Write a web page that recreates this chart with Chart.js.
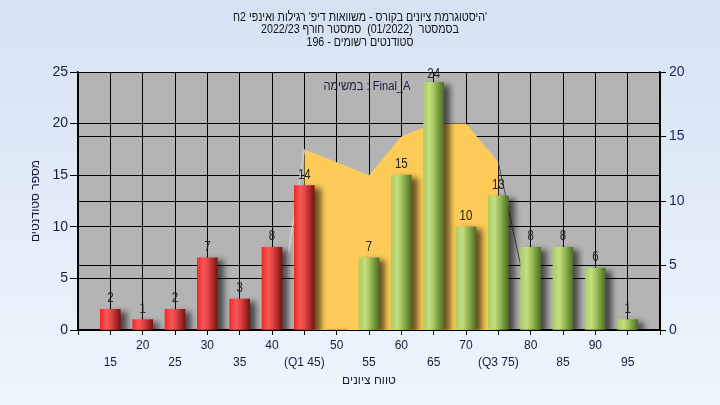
<!DOCTYPE html>
<html>
<head>
<meta charset="utf-8">
<script src="https://cdn.jsdelivr.net/npm/chart.js@4"></script>
<style>
html, body { margin: 0; padding: 0; }
body { width: 720px; height: 405px; background: linear-gradient(#d5e2f3, #eef5fd); }
canvas { display: block; }
</style>
</head>
<body>
<canvas id="gradesChart" width="720" height="405"></canvas>
<script>
// grade buckets and number of students in each (left axis)
const grades = [15, 20, 25, 30, 35, 40, 45, 50, 55, 60, 65, 70, 75, 80, 85, 90, 95];
const students = [2, 1, 2, 7, 3, 8, 14, 0, 7, 15, 24, 10, 13, 8, 8, 6, 1];
const tickLabels = ['15', '20', '25', '30', '35', '40', '(Q1 45)', '50', '55', '60', '65', '70', '(Q3 75)', '80', '85', '90', '95'];
const passGrade = 55;

// yellow band between Q1 and Q3 (right axis)
const bandGrades = [45, 50, 55, 60, 65, 70, 75];
const bandValues = [14, 13, 12, 15, 16, 16, 13];
// side edges of the band
const leftEdge = [{x: 45, y: 14}, {x: 42.3, y: 5.2}];
const rightEdge = [{x: 75, y: 13}, {x: 78.5, y: 4.9}];

const titleLines = [
    "'היסטוגרמת ציונים בקורס - משוואות דיפ' רגילות ואינפי 2ח",
    'בסמסטר  (01/2022)  סמסטר חורף 2022/23',
    'סטודנטים רשומים - 196'
];
const taskLabel = 'במשימה : Final_A';

const FONT = '"Liberation Sans", "DejaVu Sans", sans-serif';
const TEXT = '#1a1a3c';
Chart.defaults.font.family = FONT;
Chart.defaults.color = TEXT;

// cylinder-like shading for each bar
function barFill(context) {
    const chart = context.chart;
    const xs = chart.scales.x;
    const i = context.dataIndex;
    const red = grades[i] < passGrade;
    if (!xs || i === undefined) return red ? '#e84848' : '#9cbf58';
    const cx = xs.getPixelForValue(grades[i]);
    if (!isFinite(cx)) return red ? '#e84848' : '#9cbf58';
    const g = chart.ctx.createLinearGradient(cx - 10, 0, cx + 10, 0);
    if (red) {
        g.addColorStop(0, '#f02828');
        g.addColorStop(0.3, '#ff5656');
        g.addColorStop(0.5, '#e84848');
        g.addColorStop(1, '#7c1212');
    } else {
        g.addColorStop(0, '#a9cf5c');
        g.addColorStop(0.3, '#c4de84');
        g.addColorStop(0.55, '#9cbf58');
        g.addColorStop(1, '#4f6e22');
    }
    return g;
}

// narrow-looking text: squeeze horizontally around the anchor
function squeezed(ctx, text, x, y, sx) {
    ctx.save();
    ctx.translate(x, y);
    ctx.scale(sx, 1);
    ctx.fillText(text, 0, 0);
    ctx.restore();
}

const plotBackground = {
    id: 'plotBackground',
    beforeDraw(chart) {
        const {ctx, chartArea: a} = chart;
        ctx.save();
        ctx.fillStyle = '#b4b4b4';
        ctx.fillRect(a.left, a.top, a.width, a.height);
        ctx.restore();
    }
};

const barShadow = {
    id: 'barShadow',
    beforeDatasetDraw(chart, args) {
        if (args.index !== 0) return;
        const ctx = chart.ctx;
        ctx.save();
        ctx.shadowColor = 'rgba(0,0,0,0.6)';
        ctx.shadowBlur = 6;
        ctx.shadowOffsetX = 6;
        ctx.shadowOffsetY = 3;
    },
    afterDatasetDraw(chart, args) {
        if (args.index !== 0) return;
        chart.ctx.restore();
    }
};

const textLayer = {
    id: 'textLayer',
    afterDraw(chart) {
        const ctx = chart.ctx;
        const a = chart.chartArea;
        ctx.save();
        // value above each bar
        ctx.font = '14px ' + FONT;
        ctx.fillStyle = '#222';
        ctx.textAlign = 'center';
        ctx.textBaseline = 'alphabetic';
        chart.getDatasetMeta(0).data.forEach(function(bar, i) {
            if (!students[i]) return;
            squeezed(ctx, String(students[i]), bar.x, Math.max(bar.y - 7, a.top + 6), 0.82);
        });
        // task label inside the plot
        ctx.font = '13px ' + FONT;
        ctx.fillStyle = TEXT;
        ctx.textBaseline = 'middle';
        ctx.direction = 'ltr';
        squeezed(ctx, taskLabel, 367, 86, 0.86);
        // header
        ctx.direction = 'rtl';
        ctx.fillStyle = '#111';
        titleLines.forEach(function(line, k) {
            squeezed(ctx, line, 360, 17 + k * 12.5, 0.82);
        });
        ctx.restore();
    }
};

const ctx = document.getElementById('gradesChart').getContext('2d');
const gradesChart = new Chart(ctx, {
    type: 'bar',
    data: {
        datasets: [{
            type: 'bar',
            data: grades.map(function(g, i) { return {x: g, y: students[i]}; }),
            backgroundColor: barFill,
            borderWidth: 0,
            barThickness: 20,
            yAxisID: 'y',
            order: 1
        }, {
            type: 'line',
            data: bandGrades.map(function(g, i) { return {x: g, y: bandValues[i]}; }),
            backgroundColor: '#fecb58',
            borderWidth: 0,
            pointRadius: 0,
            fill: 'origin',
            yAxisID: 'y2',
            order: 3
        }, {
            type: 'line',
            data: rightEdge,
            borderColor: '#4a4a4a',
            borderWidth: 1,
            pointRadius: 0,
            fill: false,
            yAxisID: 'y2',
            order: 2
        }, {
            type: 'line',
            data: leftEdge,
            borderColor: '#cfcfcf',
            borderWidth: 1.5,
            pointRadius: 0,
            fill: false,
            yAxisID: 'y2',
            order: 2
        }]
    },
    options: {
        responsive: false,
        animation: false,
        layout: { padding: { top: 72, left: 0, right: 0, bottom: 0 } },
        plugins: {
            legend: { display: false },
            tooltip: { enabled: false },
            title: { display: false }
        },
        scales: {
            x: {
                type: 'linear',
                min: 10,
                max: 100,
                offset: false,
                grid: { offset: false, color: '#000', lineWidth: 1, tickLength: 5 },
                border: { color: '#000', width: 1.5 },
                ticks: {
                    stepSize: 5,
                    autoSkip: false,
                    maxRotation: 0,
                    padding: 2,
                    font: { size: 12, lineHeight: 17 / 12 },
                    callback: function(v) {
                        const i = grades.indexOf(v);
                        if (i < 0) return '';
                        return i % 2 === 1 ? [tickLabels[i], ''] : ['', tickLabels[i]];
                    }
                },
                title: {
                    display: true,
                    text: 'טווח ציונים',
                    font: { size: 12 },
                    padding: { top: 0, bottom: 17 }
                },
                afterFit: function(s) { s.height = 75; }
            },
            y: {
                position: 'left',
                min: 0,
                max: 25,
                grid: { color: '#000', lineWidth: 1, tickLength: 8 },
                border: { color: '#000', width: 1.5 },
                ticks: { stepSize: 5, padding: 2, font: { size: 14 } },
                title: {
                    display: true,
                    text: 'מספר סטודנטים',
                    font: { size: 12 },
                    padding: { top: 28, bottom: 0 }
                },
                afterFit: function(s) { s.width = 78; }
            },
            y2: {
                position: 'right',
                min: 0,
                max: 20,
                grid: { color: '#000', lineWidth: 1, tickLength: 6 },
                border: { color: '#000', width: 1.5 },
                ticks: { stepSize: 5, padding: 3, font: { size: 14 }, color: '#14245a' },
                afterFit: function(s) { s.width = 60; }
            }
        }
    },
    plugins: [plotBackground, barShadow, textLayer]
});
</script>
</body>
</html>
